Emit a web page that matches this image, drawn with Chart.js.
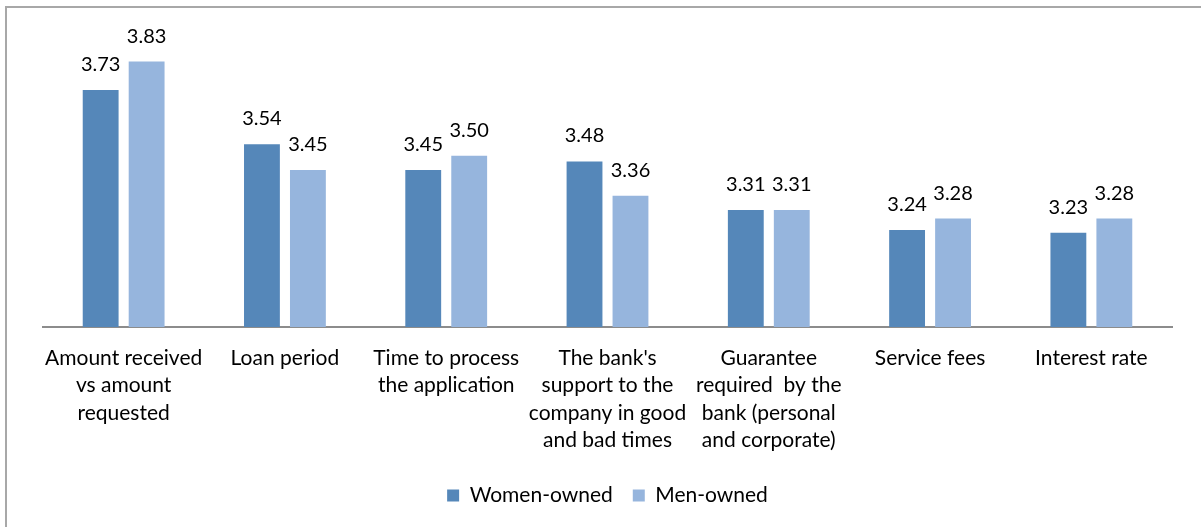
<!DOCTYPE html>
<html>
<head>
<meta charset="utf-8">
<script src="https://cdn.jsdelivr.net/npm/chart.js@4"></script>
<style>
    html, body { margin: 0; padding: 0; background: #fff; }
    #wrap { position: relative; width: 1201px; height: 527px; overflow: hidden; }
    #frame {
        position: absolute; left: 5px; top: 6px; width: 1300px; height: 600px;
        border: 2px solid #a8a8a8; box-sizing: border-box;
    }
    #chart { position: absolute; left: 0; top: 0; }
</style>
</head>
<body>
<div id="wrap">
    <div id="frame"></div>
    <canvas id="chart" width="1201" height="527"></canvas>
</div>
<script>
"use strict";

// categories
const categories = [
    ['Amount received', 'vs amount', 'requested'],
    ['Loan period'],
    ['Time to process', 'the application'],
    ["The bank's", 'support to the', 'company in good', 'and bad times'],
    ['Guarantee', 'required  by the', 'bank (personal', 'and corporate)'],
    ['Service fees'],
    ['Interest rate'],
];

// series
const womenOwned = [3.73, 3.54, 3.45, 3.48, 3.31, 3.24, 3.23];
const menOwned = [3.83, 3.45, 3.50, 3.36, 3.31, 3.28, 3.28];

const FONT = 'Lato, "Open Sans", sans-serif';

// 棒の上に値を書く
const valueLabels = {
    id: 'valueLabels',
    afterDatasetsDraw(chart) {
        const ctx = chart.ctx;
        ctx.save();
        ctx.font = '20px ' + FONT;
        ctx.fillStyle = '#000';
        ctx.textAlign = 'center';
        ctx.textBaseline = 'alphabetic';
        chart.data.datasets.forEach((ds, i) => {
            chart.getDatasetMeta(i).data.forEach((bar, j) => {
                ctx.fillText(ds.data[j].toFixed(2), bar.x, bar.y - 19);
            });
        });
        ctx.restore();
    }
};

const data = {
    labels: categories,
    datasets: [{
        label: 'Women-owned',
        data: womenOwned,
        backgroundColor: '#5587b9',
    }, {
        label: 'Men-owned',
        data: menOwned,
        backgroundColor: '#96b5dd',
    }]
};

const config = {
    type: 'bar',
    data: data,
    options: {
        responsive: false,
        animation: false,
        categoryPercentage: 0.57,
        barPercentage: 0.78,
        layout: {
            padding: { left: 43, right: 29, top: 13, bottom: 11 }
        },
        scales: {
            y: {
                display: false,
                min: 2.9,
                max: 4.0,
            },
            x: {
                grid: { display: false, drawTicks: false },
                border: { color: '#8c8c8c', width: 2 },
                ticks: {
                    color: '#000',
                    padding: 17,
                    maxRotation: 0,
                    autoSkip: false,
                    font: { family: FONT, size: 21, lineHeight: 1.31 },
                },
                afterFit(axis) {
                    axis.height = 138;
                },
            },
        },
        plugins: {
            legend: {
                position: 'bottom',
                labels: {
                    color: '#000',
                    boxWidth: 12,
                    boxHeight: 12,
                    padding: 20,
                    font: { family: FONT, size: 21 },
                },
            },
            tooltip: { enabled: false },
        },
    },
    plugins: [valueLabels],
};

let barChart = new Chart(document.getElementById('chart'), config);
</script>
</body>
</html>
